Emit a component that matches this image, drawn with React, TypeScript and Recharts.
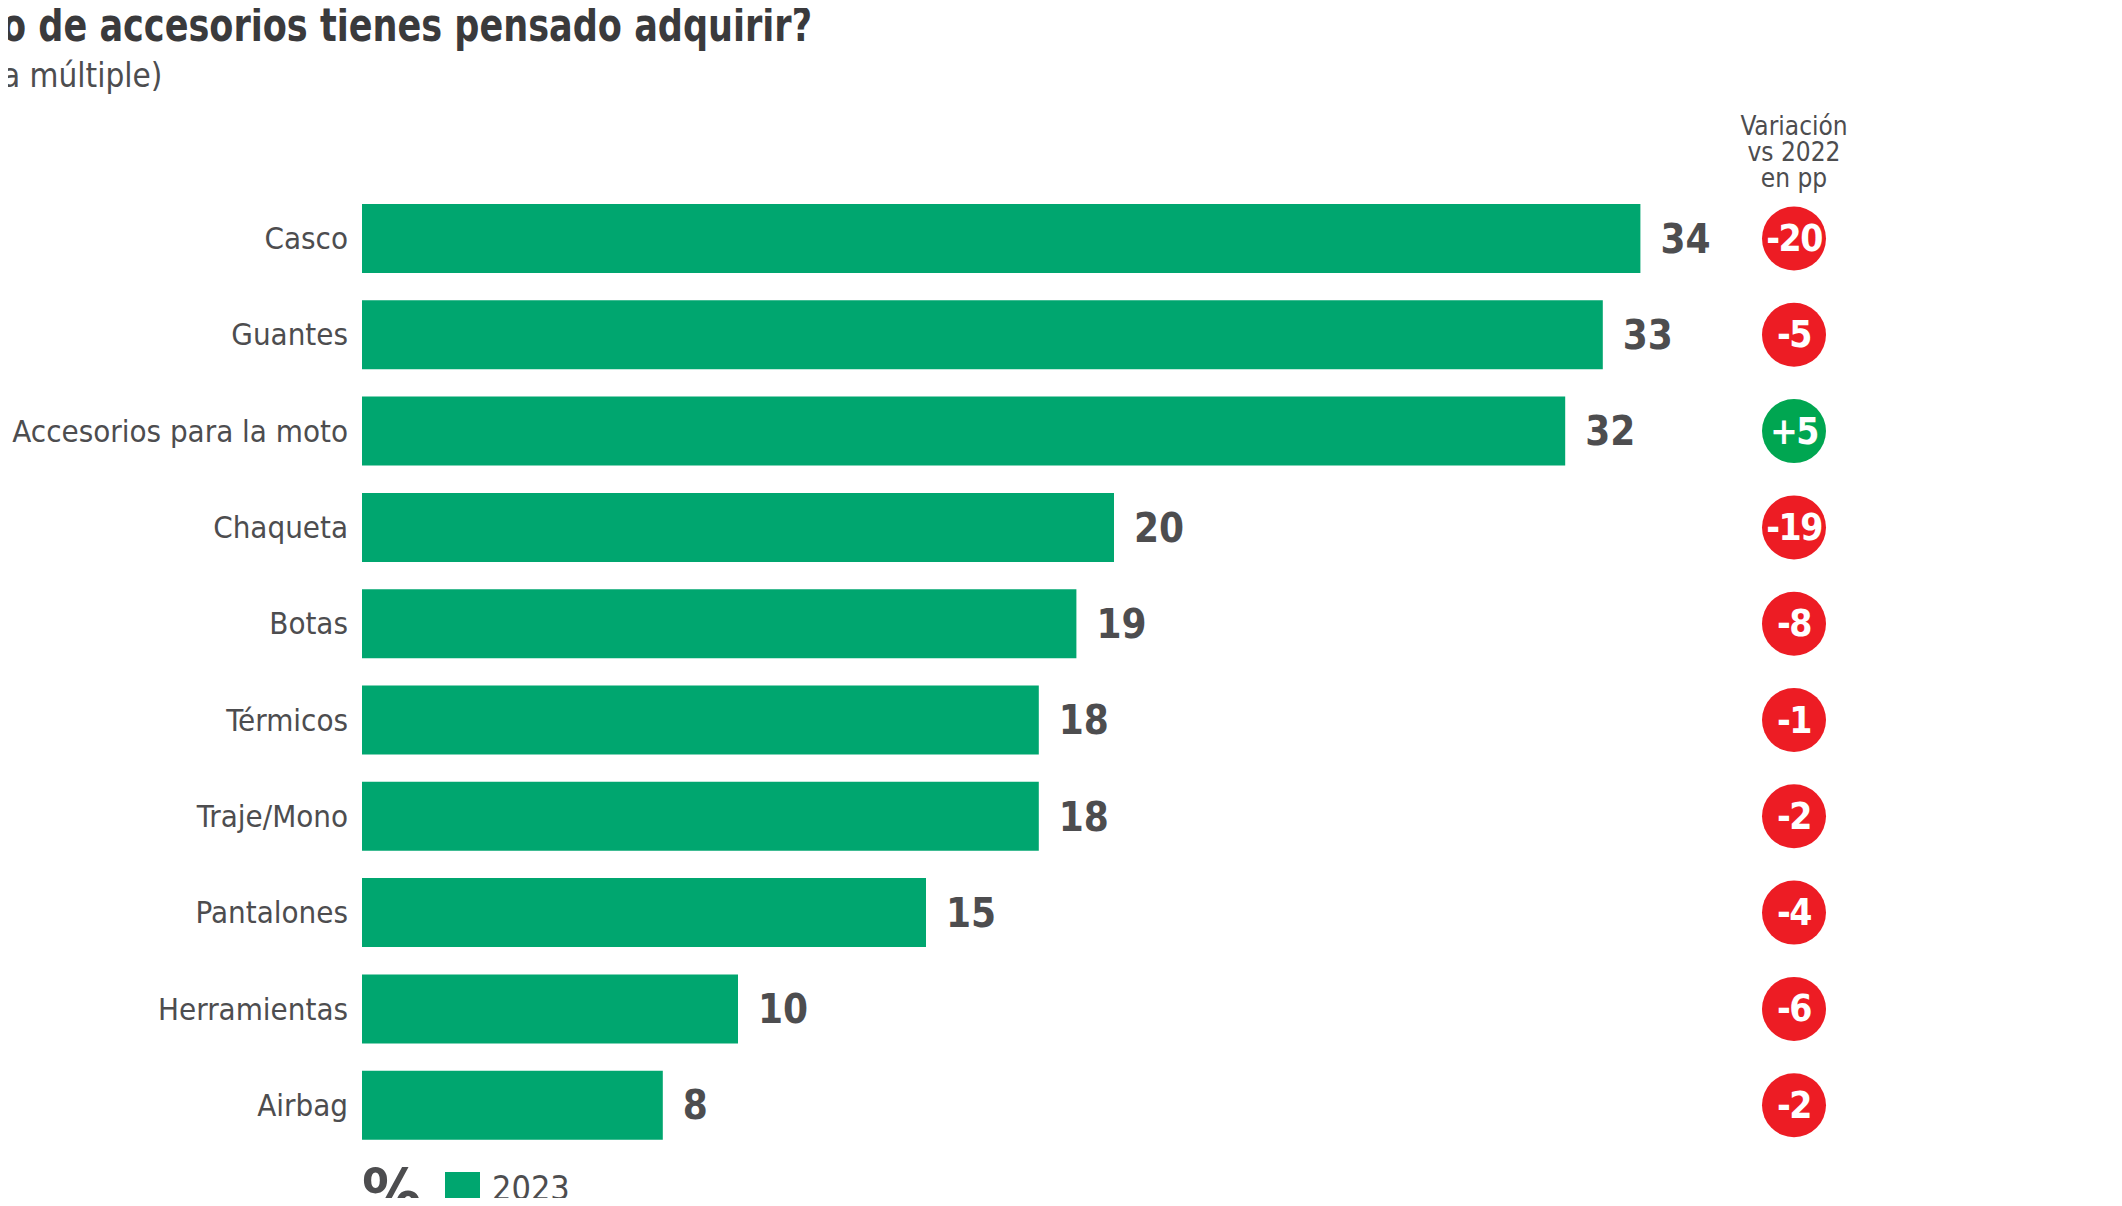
import React from 'react';
import { BarChart, Bar, XAxis, YAxis, LabelList } from 'recharts';

// values (% of respondents, 2023) and change vs 2022 in pp
const categories = [
  'Casco',
  'Guantes',
  'Accesorios para la moto',
  'Chaqueta',
  'Botas',
  'Térmicos',
  'Traje/Mono',
  'Pantalones',
  'Herramientas',
  'Airbag',
];
const values2023 = [34, 33, 32, 20, 19, 18, 18, 15, 10, 8];
const variationVs2022 = [-20, -5, 5, -19, -8, -1, -2, -4, -6, -2];
const seriesName = '2023';

const chartData = categories.map((name, i) => ({
  name,
  value: values2023[i],
  variation: variationVs2022[i],
}));

const GREEN = '#00A66F';
const RED = '#ED1C24';
const GREEN_BADGE = '#00A651';
const TEXT = '#4D4D4F';
const FONT = "'Liberation Sans Narrow', 'DejaVu Sans Condensed', Roboto, sans-serif";

const CategoryTick = (props: any) => {
  const { x, y, payload } = props;
  return (
    <text x={x} y={y} textAnchor="end" dominantBaseline="central" fontSize={31} fill={TEXT} fontFamily={FONT}>
      {payload.value}
    </text>
  );
};

// red / green circle with the change vs 2022, in its own column
const VariationBadge = (props: any) => {
  const { y, height, value } = props;
  const cy = y + height / 2;
  const cx = 1794;
  const label = value > 0 ? `+${value}` : `${value}`;
  return (
    <g>
      <circle cx={cx} cy={cy} r={32} fill={value > 0 ? GREEN_BADGE : RED} />
      <text
        x={cx}
        y={cy}
        textAnchor="middle"
        dominantBaseline="central"
        fontSize={37}
        fontWeight={700}
        fill="#fff"
        fontFamily={FONT}
        letterSpacing={-1.5}
      >
        {label}
      </text>
    </g>
  );
};

export default function App() {
  return (
    <div style={{ position: 'relative', width: 2122, height: 1206, margin: -8, overflow: 'hidden', background: '#fff' }}>
      <svg width={2122} height={1206} style={{ position: 'absolute', left: 0, top: 0 }}>
        <text
          x={2}
          y={41}
          fontSize={46}
          fontWeight={700}
          fill="#3A3A3C"
          fontFamily={FONT}
          textLength={810}
          lengthAdjust="spacingAndGlyphs"
        >
          o de accesorios tienes pensado adquirir?
        </text>
        <text x={2} y={87} fontSize={33} fontWeight={300} fill={TEXT} fontFamily={FONT}>
          a múltiple)
        </text>
        <text x={1794} textAnchor="middle" fontSize={26} fill={TEXT} fontFamily={FONT}>
          <tspan x={1794} y={135}>Variación</tspan>
          <tspan x={1794} y={161}>vs 2022</tspan>
          <tspan x={1794} y={187}>en pp</tspan>
        </text>
        {/* unit marker and legend below the bars */}
        <text x={362} y={1216} fontSize={66} fontWeight={700} fill={TEXT} fontFamily={FONT}>%</text>
        <rect x={445} y={1172} width={35} height={35} fill={GREEN} />
        <text x={492} y={1200} fontSize={34} fill={TEXT} fontFamily={FONT}>{seriesName}</text>
      </svg>
      <BarChart
        width={2122}
        height={1206}
        data={chartData}
        layout="vertical"
        margin={{ top: 190, right: 256, bottom: 53, left: 0 }}
      >
        <XAxis type="number" domain={[0, 40]} hide />
        <YAxis
          type="category"
          dataKey="name"
          width={362}
          axisLine={false}
          tickLine={false}
          tickSize={0}
          tickMargin={14}
          tick={<CategoryTick />}
        />
        <Bar dataKey="value" name={seriesName} fill={GREEN} barSize={69} isAnimationActive={false}>
          <LabelList
            dataKey="value"
            position="right"
            offset={20}
            fontSize={40}
            fontWeight={700}
            fill={TEXT}
            fontFamily={FONT}
          />
          <LabelList dataKey="variation" content={<VariationBadge />} />
        </Bar>
      </BarChart>
    </div>
  );
}
